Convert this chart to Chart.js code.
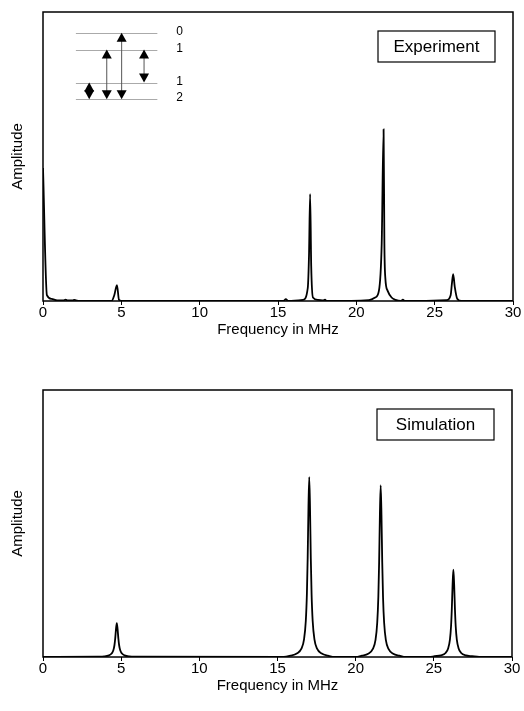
<!DOCTYPE html>
<html>
<head>
<meta charset="utf-8">
<script src="https://cdn.jsdelivr.net/npm/chart.js@4.4.0/dist/chart.umd.min.js"></script>
<style>
  body { margin: 0; background: #fff; }
  canvas { display: block; }
</style>
</head>
<body>
<canvas id="expChart" width="524" height="355"></canvas>
<canvas id="simChart" width="524" height="356"></canvas>
<script>
// experiment spectrum (MHz, arbitrary amplitude)
const expFreq = [0, 0.25, 0.55, 0.9, 1.3, 1.45, 1.55, 1.9, 2.0, 2.1, 2.4, 4.38, 4.55, 4.72, 4.85, 5.0,
  15.35, 15.5, 15.65, 16.6, 16.9, 16.98, 17.05, 17.12, 17.23, 17.55, 17.9, 18.0, 18.1,
  20.8, 21.2, 21.44, 21.62, 21.74, 21.79, 21.85, 22.0, 22.25, 22.5, 22.85, 22.97, 23.1,
  25.76, 26.02, 26.1, 26.18, 26.28, 26.44, 26.72, 30];
const expAmp = [0.46, 0.02, 0.007, 0.002, 0.002, 0.005, 0.002, 0.002, 0.004, 0.002, 0, 0, 0.02, 0.055, 0.004, 0,
  0, 0.006, 0, 0.004, 0.045, 0.16, 0.37, 0.12, 0.012, 0.004, 0.002, 0.005, 0,
  0.003, 0.012, 0.035, 0.2, 0.594, 0.2, 0.08, 0.035, 0.012, 0.004, 0, 0.005, 0,
  0.003, 0.02, 0.06, 0.093, 0.05, 0.008, 0, 0];

// simulated spectrum
const simFreq = [0, 3.52, 3.92, 4.22, 4.39, 4.5, 4.57, 4.62, 4.67, 4.72, 4.77, 4.82, 4.87, 4.94, 5.05, 5.22, 5.52, 5.92,
  15.4, 15.83, 16.23, 16.53, 16.7, 16.81, 16.88, 16.93, 16.98, 17.03, 17.08, 17.13, 17.18, 17.25, 17.36, 17.53, 17.83, 18.23, 18.7,
  20.0, 20.4, 20.8, 21.1, 21.27, 21.38, 21.45, 21.5, 21.55, 21.6, 21.65, 21.7, 21.75, 21.82, 21.93, 22.1, 22.4, 22.8, 23.2,
  24.7, 25.05, 25.45, 25.75, 25.92, 26.03, 26.1, 26.15, 26.2, 26.25, 26.3, 26.35, 26.4, 26.47, 26.58, 26.75, 27.05, 27.45, 27.9, 30];
const simAmp = [0, 0.001, 0.002, 0.006, 0.013, 0.025, 0.044, 0.07, 0.105, 0.127, 0.105, 0.07, 0.044, 0.025, 0.013, 0.006, 0.002, 0.001,
  0, 0.005, 0.013, 0.031, 0.067, 0.135, 0.236, 0.371, 0.559, 0.674, 0.559, 0.371, 0.236, 0.135, 0.067, 0.031, 0.013, 0.005, 0,
  0, 0.005, 0.012, 0.03, 0.064, 0.129, 0.225, 0.354, 0.534, 0.643, 0.534, 0.354, 0.225, 0.129, 0.064, 0.03, 0.012, 0.005, 0,
  0, 0.003, 0.006, 0.015, 0.033, 0.065, 0.114, 0.18, 0.271, 0.327, 0.271, 0.18, 0.114, 0.065, 0.033, 0.015, 0.006, 0.003, 0, 0];

const xTicks = [0, 5, 10, 15, 20, 25, 30];

// inset level scheme (in plot units: MHz / amplitude)
const levelY = [0.928, 0.87, 0.756, 0.698];
const levelNames = ["0", "1", "1", "2"];
const levelXFrom = 2.1;
const levelXTo = 7.3;
const levelLabelX = 8.5;
const arrows = [
  { x: 2.95, top: 0.756, bottom: 0.698 },
  { x: 4.07, top: 0.87, bottom: 0.698 },
  { x: 5.02, top: 0.928, bottom: 0.698 },
  { x: 6.45, top: 0.87, bottom: 0.756 },
];

const FONT = "'Liberation Sans', Arial, sans-serif";

const toPoints = function (xs, ys) {
  return xs.map((x, i) => ({ x: x, y: ys[i] }));
};

const framePlugin = {
  id: "frame",
  afterDraw(chart, args, opts) {
    const ctx = chart.ctx;
    const a = chart.chartArea;
    ctx.save();
    ctx.strokeStyle = "#000";
    ctx.lineWidth = 1.5;
    ctx.strokeRect(a.left, a.top, a.right - a.left, a.bottom - a.top);
    // label box
    const w = 117, h = 31;
    const bx = a.right - 18 - w;
    const by = a.top + 19;
    ctx.fillStyle = "#fff";
    ctx.fillRect(bx, by, w, h);
    ctx.lineWidth = 1.2;
    ctx.strokeRect(bx, by, w, h);
    ctx.fillStyle = "#000";
    ctx.font = "17px " + FONT;
    ctx.textAlign = "center";
    ctx.textBaseline = "middle";
    ctx.fillText(opts.label, bx + w / 2, by + h / 2 + 1);
    ctx.restore();
  },
};

const tri = function (ctx, x, y, dir) {
  // dir -1 = pointing up, tip at y
  ctx.beginPath();
  ctx.moveTo(x, y);
  ctx.lineTo(x - 5, y - dir * 9);
  ctx.lineTo(x + 5, y - dir * 9);
  ctx.closePath();
  ctx.fill();
};

const insetPlugin = {
  id: "inset",
  afterDraw(chart) {
    const ctx = chart.ctx;
    const xs = chart.scales.x;
    const ys = chart.scales.y;
    ctx.save();
    ctx.strokeStyle = "#aaa";
    ctx.lineWidth = 1;
    ctx.font = "12px " + FONT;
    ctx.fillStyle = "#000";
    ctx.textAlign = "left";
    ctx.textBaseline = "middle";
    levelY.forEach((v, i) => {
      const py = Math.round(ys.getPixelForValue(v)) + 0.5;
      ctx.beginPath();
      ctx.moveTo(xs.getPixelForValue(levelXFrom), py);
      ctx.lineTo(xs.getPixelForValue(levelXTo), py);
      ctx.stroke();
      ctx.fillText(levelNames[i], xs.getPixelForValue(levelLabelX), py - 2);
    });
    ctx.strokeStyle = "#555";
    arrows.forEach((ar) => {
      const px = xs.getPixelForValue(ar.x);
      const pt = ys.getPixelForValue(ar.top);
      const pb = ys.getPixelForValue(ar.bottom);
      ctx.beginPath();
      ctx.moveTo(px, pt + 4);
      ctx.lineTo(px, pb - 4);
      ctx.stroke();
      tri(ctx, px, pt, -1);
      tri(ctx, px, pb, 1);
    });
    ctx.restore();
  },
};

const makeChart = function (id, freq, amp, label, pad, plugins) {
  return new Chart(document.getElementById(id), {
    type: "line",
    data: {
      datasets: [{
        data: toPoints(freq, amp),
        borderColor: "#000",
        borderWidth: 1.8,
        pointRadius: 0,
        cubicInterpolationMode: "monotone",
        fill: false,
      }],
    },
    options: {
      responsive: false,
      animation: false,
      layout: { padding: pad },
      plugins: {
        legend: { display: false },
        tooltip: { enabled: false },
        frame: { label: label },
      },
      scales: {
        x: {
          type: "linear",
          min: 0,
          max: 30,
          afterBuildTicks: (s) => { s.ticks = xTicks.map((v) => ({ value: v })); },
          grid: { display: true, drawOnChartArea: false, drawTicks: true, tickLength: 4, color: "#000" },
          border: { display: false },
          ticks: { color: "#000", font: { family: FONT, size: 15 }, padding: -1, maxRotation: 0 },
          title: { display: true, text: "Frequency in MHz", color: "#000", font: { family: FONT, size: 15 }, padding: { top: 0, bottom: 5 } },
        },
        y: {
          min: 0,
          max: 1,
          grid: { display: false },
          border: { display: false },
          ticks: { display: false },
          title: { display: true, text: "Amplitude", color: "#000", font: { family: FONT, size: 15 }, padding: { top: 4, bottom: 8 } },
        },
      },
    },
    plugins: plugins,
  });
};

makeChart("expChart", expFreq, expAmp, "Experiment", { top: 12, right: 11, left: 5, bottom: 11 }, [framePlugin, insetPlugin]);
makeChart("simChart", simFreq, simAmp, "Simulation", { top: 35, right: 12, left: 5, bottom: 11 }, [framePlugin]);
</script>
</body>
</html>
